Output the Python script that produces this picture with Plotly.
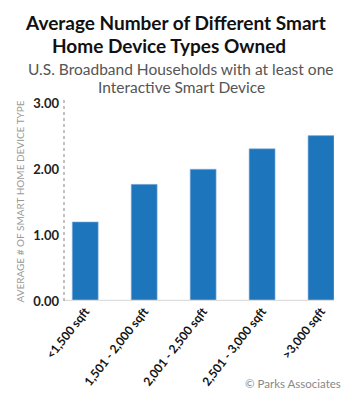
import plotly.graph_objects as go

categories = ["<1,500 sqft", "1,501 - 2,000 sqft", "2,001 - 2,500 sqft", "2,501 - 3,000 sqft", ">3,000 sqft"]
values = [1.20, 1.77, 2.00, 2.31, 2.51]
tick_vals = [0, 1, 2, 3]
tick_text = ["0.00", "1.00", "2.00", "3.00"]

title_lines = ["Average Number of Different Smart", "Home Device Types Owned"]
subtitle_lines = ["U.S. Broadband Households with at least one", "Interactive Smart Device"]
y_title = "AVERAGE # OF SMART HOME DEVICE TYPE"
credit = "© Parks Associates"

FONT = "Lato, sans-serif"
L, R, T, B = 64, 16, 102, 96
W, H = 350, 400
pw, ph = W - L - R, H - T - B

def px(xp):
    return (xp - L) / pw

def py(yp):
    return (H - B - yp) / ph

fig = go.Figure()
fig.add_trace(go.Bar(
    x=list(range(len(categories))), y=values,
    marker=dict(color="#1d75bc", line=dict(color="#8fb6dd", width=0.6)),
    width=0.44,
))

annotations = []
for txt, cx, cy in zip(title_lines, [175.5, 168.5], [21, 45]):
    annotations.append(dict(text="<b>" + txt + "</b>", x=px(cx), y=py(cy), xref="paper", yref="paper",
                            xanchor="center", yanchor="middle", showarrow=False,
                            font=dict(family=FONT, size=19, color="#111")))
for txt, cx, cy in zip(subtitle_lines, [180.5, 181], [69, 87]):
    annotations.append(dict(text=txt, x=px(cx), y=py(cy), xref="paper", yref="paper",
                            xanchor="center", yanchor="middle", showarrow=False,
                            font=dict(family=FONT, size=15.5, color="#555")))
annotations.append(dict(text=credit, x=px(343), y=py(388), xref="paper", yref="paper", showarrow=False,
                        xanchor="right", yanchor="middle",
                        font=dict(family=FONT, size=11.5, color="#888")))

fig.update_layout(
    width=W, height=H,
    margin=dict(l=L, r=R, t=T, b=B),
    paper_bgcolor="white", plot_bgcolor="white",
    showlegend=False,
    font=dict(family=FONT),
    xaxis=dict(
        tickmode="array", tickvals=list(range(len(categories))), ticktext=categories,
        range=[-0.36, 4.22], tickangle=-52, showgrid=False, zeroline=False,
        showline=False, ticks="",
        tickfont=dict(family=FONT, size=12, color="#111", weight="bold"),
    ),
    yaxis=dict(
        range=[0, 3.02], tickmode="array", tickvals=tick_vals, ticktext=tick_text,
        showgrid=False, zeroline=False, showline=False,
        ticks="", ticklabelstandoff=4,
        tickfont=dict(family=FONT, size=13, color="#222", weight="bold"),
        title=dict(text=y_title, standoff=6,
                   font=dict(family=FONT, size=10, color="#999")),
    ),
    annotations=annotations,
)
fig.add_shape(type="line", xref="paper", yref="y", x0=0, x1=1, y0=0, y1=0,
              line=dict(color="#ddd", width=2.5))
fig.add_shape(type="line", xref="paper", yref="paper", x0=0, x1=0, y0=0, y1=1.01,
              line=dict(color="#999", width=1.2, dash="dot"))
fig.write_html("out.html")
